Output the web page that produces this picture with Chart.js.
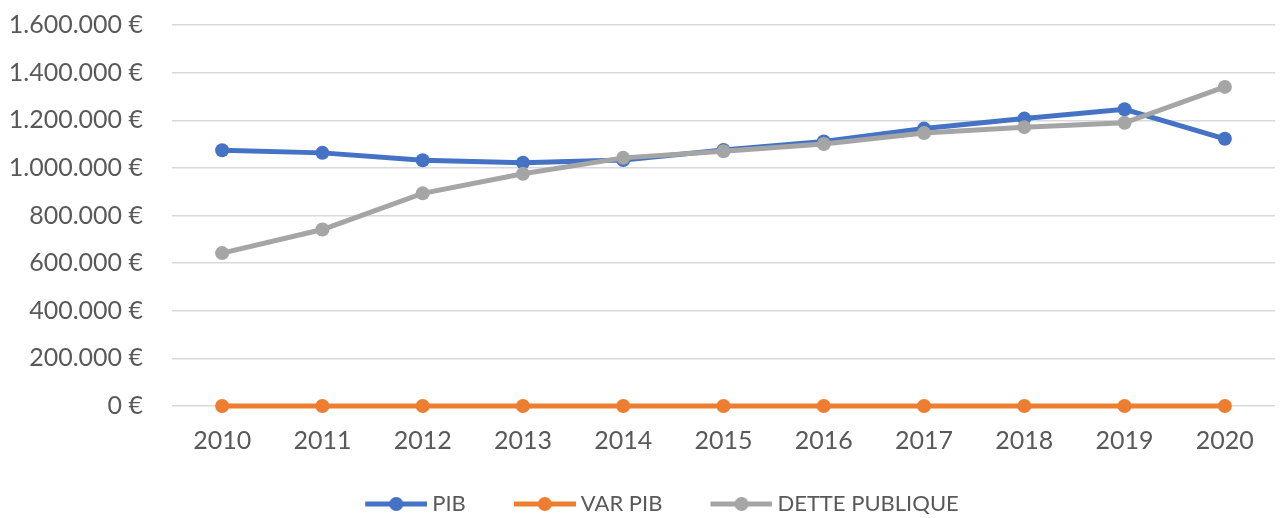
<!DOCTYPE html>
<html>
<head>
<meta charset="utf-8">
<script src="https://cdn.jsdelivr.net/npm/chart.js@4.4.0/dist/chart.umd.min.js"></script>
<style>
  html, body { margin: 0; padding: 0; background: #fff; }
</style>
</head>
<body>
<canvas id="chart" width="1282" height="518"></canvas>
<script>
const years = ['2010', '2011', '2012', '2013', '2014', '2015', '2016', '2017', '2018', '2019', '2020'];
const pib = [1074000, 1063000, 1032000, 1022000, 1033000, 1075000, 1111000, 1165000, 1207000, 1246000, 1122000];
const varPib = [0, 0, 0, 0, 0, 0, 0, 0, 0, 0, 0];
const dettePublique = [642000, 741000, 893000, 975000, 1042000, 1070000, 1100000, 1146000, 1171000, 1189000, 1340000];
const seriesNames = ['PIB', 'VAR PIB', 'DETTE PUBLIQUE'];
const seriesColors = ['#4472C4', '#ED7D31', '#A5A5A5'];
const yMin = 0, yMax = 1600000, yStep = 200000;

const textColor = '#595959';
const fontFamily = 'Lato, "Open Sans", sans-serif';

// euro format with dots as thousand separators, like 1.600.000 €
function formatEuro(v) {
  return String(Math.round(v)).replace(/\B(?=(\d{3})+(?!\d))/g, '.') + ' €';
}

// legend icon: short line with a dot in the middle (Excel style)
// canvas is 12px wider than the legend box so the line sits close to the text
function legendMarker(color) {
  const c = document.createElement('canvas');
  c.width = 112;
  c.height = 16;
  const g = c.getContext('2d');
  g.strokeStyle = color;
  g.lineWidth = 5;
  g.beginPath();
  g.moveTo(50, 8);
  g.lineTo(112, 8);
  g.stroke();
  g.fillStyle = color;
  g.beginPath();
  g.arc(81, 8, 7, 0, Math.PI * 2);
  g.fill();
  return c;
}

function lineDataset(i, values, order) {
  return {
    label: seriesNames[i],
    data: values,
    borderColor: seriesColors[i],
    backgroundColor: seriesColors[i],
    pointBackgroundColor: seriesColors[i],
    pointBorderColor: seriesColors[i],
    borderWidth: 5,
    pointRadius: 7,
    pointBorderWidth: 0,
    tension: 0,
    clip: 10, // so the zero line and its dots are not cut at the plot edge
    order: order
  };
}

const ctx = document.getElementById('chart').getContext('2d');
new Chart(ctx, {
  type: 'line',
  data: {
    labels: years,
    datasets: [
      lineDataset(0, pib, 1),
      lineDataset(1, varPib, 2),
      lineDataset(2, dettePublique, 0)
    ]
  },
  options: {
    responsive: false,
    animation: false,
    // negative bottom padding pushes the legend down to the canvas edge
    layout: { padding: { top: 25, right: 2, bottom: -7, left: 0 } },
    plugins: {
      tooltip: { enabled: false },
      legend: {
        position: 'bottom',
        labels: {
          usePointStyle: true,
          pointStyleWidth: 100,
          padding: 4,
          color: textColor,
          font: { family: fontFamily, size: 22 },
          generateLabels: (chart) => {
            const items = Chart.defaults.plugins.legend.labels.generateLabels(chart);
            items.sort((a, b) => a.datasetIndex - b.datasetIndex);
            items.forEach(it => { it.pointStyle = legendMarker(seriesColors[it.datasetIndex]); });
            return items;
          }
        }
      }
    },
    scales: {
      x: {
        offset: true,
        grid: { display: false, drawTicks: false },
        border: { display: false },
        ticks: { color: textColor, font: { family: fontFamily, size: 25 }, padding: 20, maxRotation: 0 },
        afterFit: (scale) => { scale.height = 83; }
      },
      y: {
        min: yMin,
        max: yMax,
        grid: { color: '#d9d9d9', lineWidth: 1.5, drawTicks: false },
        border: { display: false },
        ticks: {
          stepSize: yStep,
          color: textColor,
          font: { family: fontFamily, size: 25 },
          padding: 29,
          callback: (v) => formatEuro(v)
        },
        afterFit: (scale) => {
          scale.width = 172;
          // tick padding is meant horizontally only; don't let it push the plot down
          scale.paddingTop = 0;
          scale.paddingBottom = 0;
        }
      }
    }
  }
});
</script>
</body>
</html>
